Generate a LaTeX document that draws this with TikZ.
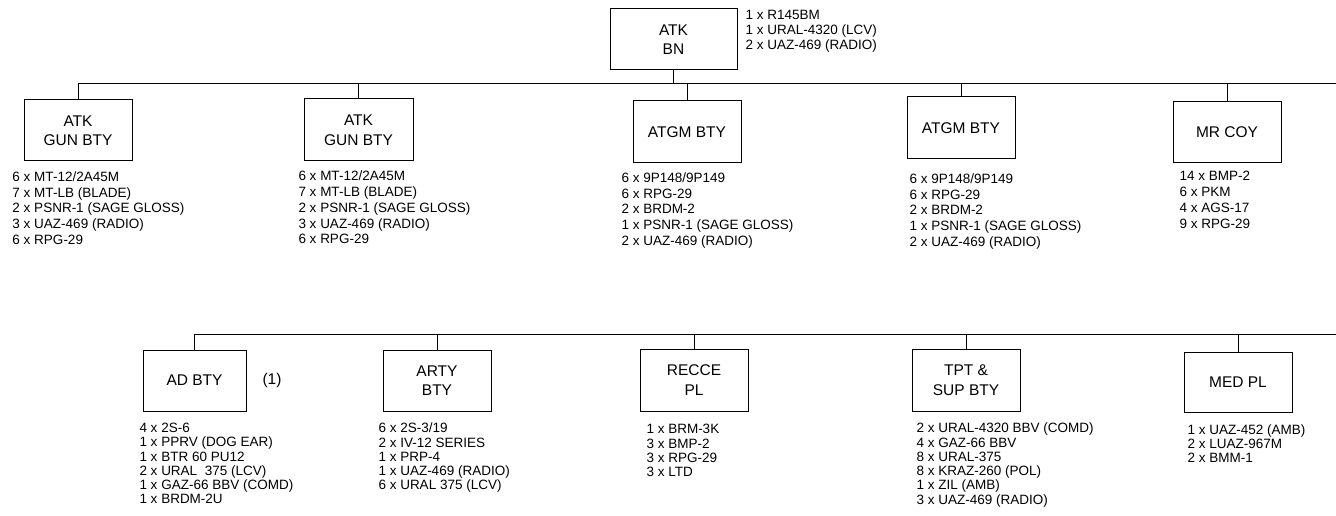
\documentclass[tikz,border=0pt]{standalone}
\usepackage{fontspec}
\setmainfont{Liberation Sans}
\usepackage{tikz}
\usetikzlibrary{positioning}

\begin{document}
\begin{tikzpicture}[
			x=1pt, y=-1pt,
			line width=1pt,
			unit/.style={draw,rectangle,inner sep=0pt,minimum width=108pt,minimum height=62pt,align=center,font=\fontsize{15.5}{19.5}\selectfont},
			kit/.style={anchor=north west,inner sep=0pt,align=left,font=\fontsize{13.5}{15.8}\selectfont},
			kittight/.style={kit,font=\fontsize{13.5}{14.3}\selectfont}
			]
			\useasboundingbox (0,0) rectangle (1336,516);
			
			% battalion
			\node[unit,minimum width=127pt,minimum height=61pt] (bn) at (673.5,39.5) {ATK\\BN};
			\node[kit,font=\fontsize{13.5}{15}\selectfont] (bnkit) at (745,10) {1 x R145BM\\1 x URAL-4320 (LCV)\\2 x UAZ-469 (RADIO)};
			
			% first row
			\node[unit,minimum height=61pt] (g1) at (78,130.5) {ATK\\GUN BTY};
			\node[unit,minimum width=109pt] (g2) at (358.5,130) {ATK\\GUN BTY};
			\node[unit] (a1) at (687,132) {ATGM BTY};
			\node[unit] (a2) at (961,128) {ATGM BTY};
			\node[unit,minimum height=61pt] (mr) at (1227,132.5) {MR COY};
			
			\node[kit] (g1kit) at (12,171) {6 x MT-12/2A45M\\7 x MT-LB (BLADE)\\2 x PSNR-1 (SAGE GLOSS)\\3 x UAZ-469 (RADIO)\\6 x RPG-29};
			\node[kit] (g2kit) at (298,170.5) {6 x MT-12/2A45M\\7 x MT-LB (BLADE)\\2 x PSNR-1 (SAGE GLOSS)\\3 x UAZ-469 (RADIO)\\6 x RPG-29};
			\node[kit] (a1kit) at (621,172) {6 x 9P148/9P149\\6 x RPG-29\\2 x BRDM-2\\1 x PSNR-1 (SAGE GLOSS)\\2 x UAZ-469 (RADIO)};
			\node[kit] (a2kit) at (909,173) {6 x 9P148/9P149\\6 x RPG-29\\2 x BRDM-2\\1 x PSNR-1 (SAGE GLOSS)\\2 x UAZ-469 (RADIO)};
			\node[kit] (mrkit) at (1179,171) {14 x BMP-2\\6 x PKM\\4 x AGS-17\\9 x RPG-29};
			
			% second row
			\node[unit,minimum width=103pt,minimum height=61pt] (ad) at (194.5,380.5) {AD BTY};
			\node[inner sep=0pt,font=\fontsize{15.5}{19.5}\selectfont] (adnote) at (272,380) {(1)};
			\node[unit,minimum height=61pt] (arty) at (437,380.5) {ARTY\\BTY};
			\node[unit] (recce) at (694,380) {RECCE\\PL};
			\node[unit] (tpt) at (966,380) {TPT \&\\SUP BTY};
			\node[unit,minimum height=60pt] (med) at (1238,382) {MED PL};
			
			\node[kittight] (adkit) at (139,422.5) {4 x 2S-6\\1 x PPRV (DOG EAR)\\1 x BTR 60 PU12\\2 x URAL\ \ 375 (LCV)\\1 x GAZ-66 BBV (COMD)\\1 x BRDM-2U};
			\node[kittight] (artykit) at (378,422.5) {6 x 2S-3/19\\2 x IV-12 SERIES\\1 x PRP-4\\1 x UAZ-469 (RADIO)\\6 x URAL 375 (LCV)};
			\node[kittight] (reccekit) at (646,424) {1 x BRM-3K\\3 x BMP-2\\3 x RPG-29\\3 x LTD};
			\node[kittight] (tptkit) at (916,422.5) {2 x URAL-4320 BBV (COMD)\\4 x GAZ-66 BBV\\8 x URAL-375\\8 x KRAZ-260 (POL)\\1 x ZIL (AMB)\\3 x UAZ-469 (RADIO)};
			\node[kittight] (medkit) at (1187,424) {1 x UAZ-452 (AMB)\\2 x LUAZ-967M\\2 x BMM-1};
			
			% connectors
			\coordinate (bus1) at (1336,83.5);
			\coordinate (bus2) at (1336,334);
			\draw (g1) |- (bus1);
			\foreach \n in {bn,g2,a1,a2,mr}
				\draw (\n) -- (\n |- bus1);
			\draw (ad) |- (bus2);
			\foreach \n in {arty,recce,tpt,med}
				\draw (\n) -- (\n |- bus2);
		\end{tikzpicture}
\end{document}
